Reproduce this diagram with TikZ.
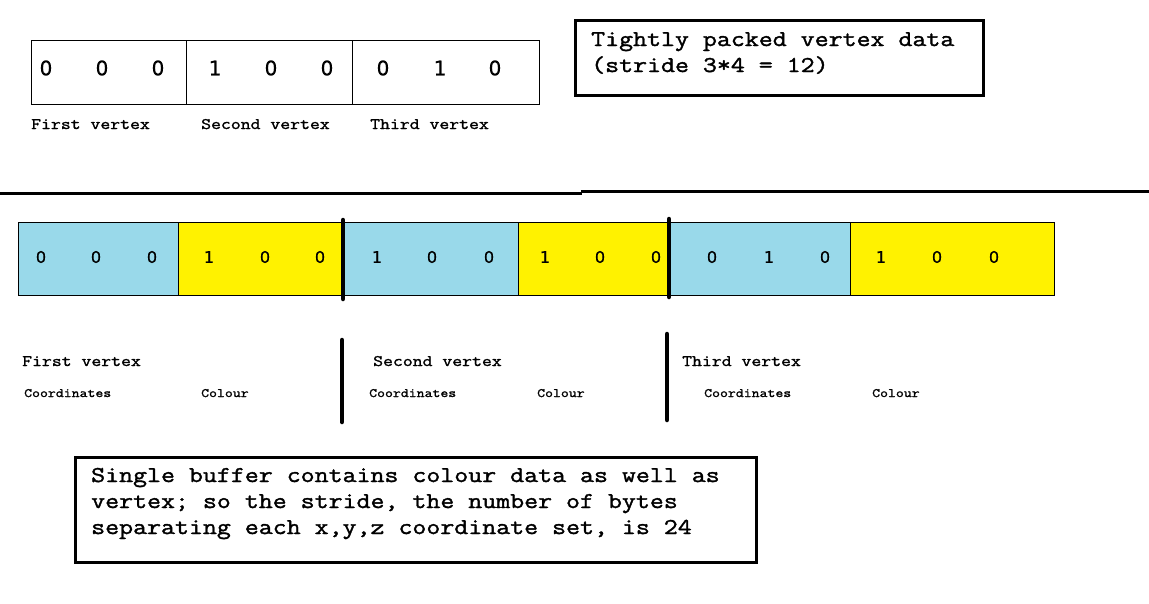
\documentclass[tikz,border=0pt]{standalone}
\usepackage{fontspec}
\newfontfamily\cour[FakeStretch=1.2,FakeBold=1.6]{Latin Modern Mono}
\newfontfamily\digitfont[FakeBold=0.6]{DejaVu Sans}
\definecolor{cblue}{RGB}{153,217,234}
\definecolor{cyellow}{RGB}{255,242,0}
\tikzset{
  cellbox/.style={draw=black, line width=1pt, inner sep=0pt, outer sep=0pt},
  topcell/.style={cellbox, minimum height=64pt},
  bluecell/.style={cellbox, fill=cblue, minimum height=73pt},
  yellowcell/.style={cellbox, fill=cyellow, minimum height=73pt},
  digA/.style={inner sep=0pt, font=\digitfont\fontsize{20}{24}\selectfont},
  digB/.style={inner sep=0pt, font=\digitfont\fontsize{16}{19}\selectfont},
  lab/.style={inner sep=0pt, anchor=base west, font=\cour\fontsize{16}{20}\selectfont},
  sublab/.style={inner sep=0pt, anchor=base west, font=\cour\fontsize{12.8}{16}\selectfont},
  note/.style={inner sep=0pt, anchor=base west, font=\cour\fontsize{22.6}{26}\selectfont},
  notebox/.style={draw=black, line width=3pt, inner sep=0pt, outer sep=0pt},
  bar/.style={line width=4.5pt, line cap=round},
  rulesep/.style={line width=3pt}
}
\begin{document}
\begin{tikzpicture}[x=1pt,y=-1pt]
\useasboundingbox (0,0) rectangle (1149,603);

% top packed buffer
\node[topcell, minimum width=155pt] (t1) at (108.5,72) {};
\node[topcell, minimum width=166pt] (t2) at (269,72) {};
\node[topcell, minimum width=187pt] (t3) at (445.5,72) {};
\node[digA] (ta1) at (46,68) {0};
\node[digA] (ta2) at (102,68) {0};
\node[digA] (ta3) at (158,68) {0};
\node[digA] (tb1) at (215,68) {1};
\node[digA] (tb2) at (271,68) {0};
\node[digA] (tb3) at (327,68) {0};
\node[digA] (tc1) at (383,68) {0};
\node[digA] (tc2) at (440,68) {1};
\node[digA] (tc3) at (495,68) {0};
\node[lab] (tl1) at (31,129) {First vertex};
\node[lab] (tl2) at (201,129) {Second vertex};
\node[lab] (tl3) at (370,129) {Third vertex};

% top right note
\node[notebox, minimum width=408pt, minimum height=75pt] (nb1) at (779,58) {};
\node[note] (nt1) at (591,46) {Tightly packed vertex data};
\node[note] (nt2) at (591,72) {(stride 3*4 = 12)};

% separator
\coordinate (s0) at (0,193);
\coordinate (s1) at (582,193);
\coordinate (s2) at (581,191);
\coordinate (s3) at (1149,191);
\draw[rulesep] (s0) -- (s1);
\draw[rulesep] (s2) -- (s3);

% interleaved buffer
\node[bluecell, minimum width=160pt] (c1) at (98,258.5) {};
\node[yellowcell, minimum width=165pt] (c2) at (260.5,258.5) {};
\node[bluecell, minimum width=175pt] (c3) at (430.5,258.5) {};
\node[yellowcell, minimum width=151pt] (c4) at (593.5,258.5) {};
\node[bluecell, minimum width=181pt] (c5) at (759.5,258.5) {};
\node[yellowcell, minimum width=204pt] (c6) at (952,258.5) {};
\node[digB] (d1) at (41,257) {0};
\node[digB] (d2) at (96,257) {0};
\node[digB] (d3) at (152,257) {0};
\node[digB] (d4) at (209,257) {1};
\node[digB] (d5) at (265,257) {0};
\node[digB] (d6) at (320,257) {0};
\node[digB] (d7) at (377,257) {1};
\node[digB] (d8) at (432,257) {0};
\node[digB] (d9) at (489,257) {0};
\node[digB] (d10) at (545,257) {1};
\node[digB] (d11) at (600,257) {0};
\node[digB] (d12) at (656,257) {0};
\node[digB] (d13) at (712,257) {0};
\node[digB] (d14) at (769,257) {1};
\node[digB] (d15) at (825,257) {0};
\node[digB] (d16) at (881,257) {1};
\node[digB] (d17) at (937,257) {0};
\node[digB] (d18) at (994,257) {0};

% thick separators
\coordinate (b1t) at (343,220);
\coordinate (b1b) at (343,299);
\coordinate (b2t) at (669,219);
\coordinate (b2b) at (669,297);
\coordinate (b3t) at (342,340);
\coordinate (b3b) at (342,422);
\coordinate (b4t) at (667,334);
\coordinate (b4b) at (667,420);
\draw[bar] (b1t) -- (b1b);
\draw[bar] (b2t) -- (b2b);
\draw[bar] (b3t) -- (b3b);
\draw[bar] (b4t) -- (b4b);

% lower labels
\node[lab] (l1) at (22,366) {First vertex};
\node[lab] (l2) at (373,366) {Second vertex};
\node[lab] (l3) at (682,366) {Third vertex};
\node[sublab] (s1a) at (24,397) {Coordinates};
\node[sublab] (s1b) at (201,397) {Colour};
\node[sublab] (s2a) at (369,397) {Coordinates};
\node[sublab] (s2b) at (537,397) {Colour};
\node[sublab] (s3a) at (704,397) {Coordinates};
\node[sublab] (s3b) at (872,397) {Colour};

% bottom note
\node[notebox, minimum width=681pt, minimum height=105pt] (nb2) at (415.5,509.5) {};
\node[note] (n1) at (91,482) {Single buffer contains colour data as well as};
\node[note] (n2) at (91,508) {vertex; so the stride, the number of bytes};
\node[note] (n3) at (91,534) {separating each x,y,z coordinate set, is 24};
\end{tikzpicture}
\end{document}
